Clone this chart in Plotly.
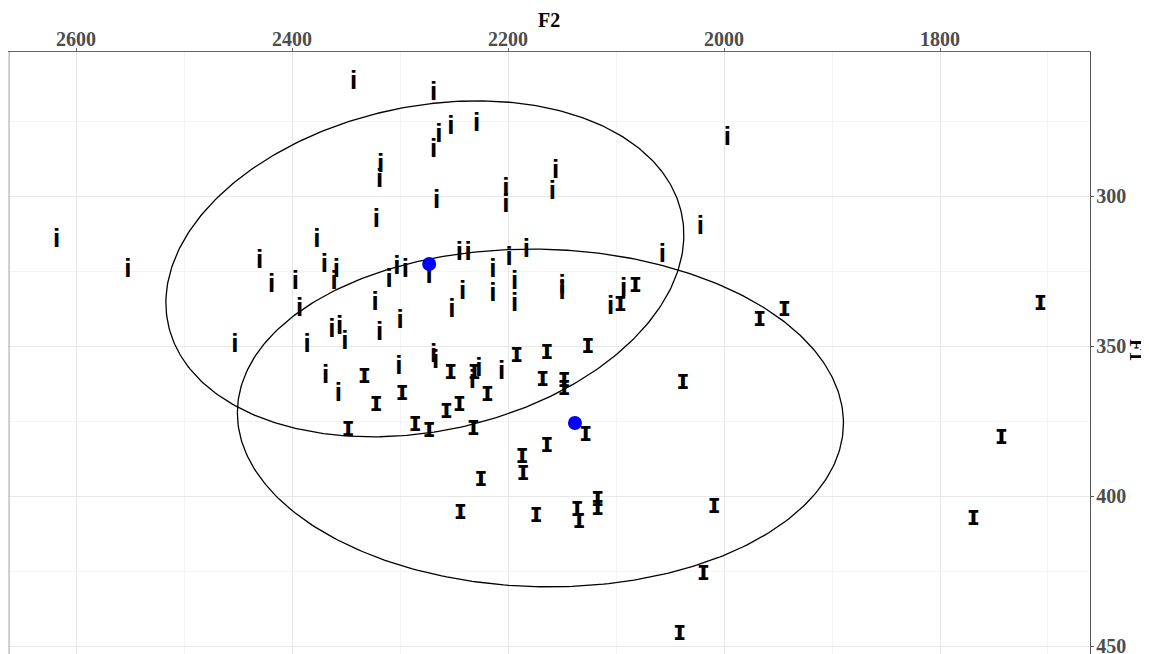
import numpy as np
import plotly.graph_objects as go

# ---- data: vowel "i" tokens (F2, F1 in Hz) ----
i_f2 = [2343, 2269, 2229, 2253, 2264, 2269, 1997, 2318, 2319, 2156, 2159, 2202, 2202,
        2266, 2322, 2618, 2552, 2377, 2022, 2057, 2430, 2370, 2359, 2361, 2419, 2397,
        2393, 2323, 2310, 2303, 2295, 2245, 2237, 2273, 2199, 2183, 2214, 2242, 2214,
        2194, 2194, 2150, 2150, 2252, 2105, 2093, 2300, 2319, 2363, 2356, 2351, 2386,
        2453, 2369, 2357, 2301, 2269, 2267, 2227, 2233, 2206]
i_f1 = [262.2, 265.6, 276.2, 277.2, 279.9, 284.6, 280.6, 289.6, 294.9, 291.6, 298.9, 297.6, 303.2,
        301.6, 308.2, 314.9, 324.9, 314.6, 310.3, 319.9, 321.9, 323.2, 324.6, 328.9, 329.9, 328.6,
        337.6, 335.6, 328.2, 323.9, 324.6, 319.2, 319.2, 326.6, 320.6, 318.2, 324.6, 332.2, 332.9,
        328.6, 336.2, 330.2, 332.2, 338.2, 337.2, 331.2, 341.6, 345.9, 344.9, 343.6, 348.6, 349.9,
        349.6, 360.2, 366.2, 357.2, 353.2, 355.2, 357.6, 361.6, 358.9]

# ---- data: vowel "ɪ" tokens ----
ih_f2 = [2082, 2096, 2126, 2164, 2192, 2253, 2298, 2168, 2148, 2148, 2219, 2245, 2257,
         2286, 2273, 2232, 2231, 2128, 1967, 1944, 2038, 2333, 2322, 2348, 1707, 1743,
         2164, 2187, 2186, 2225, 2244, 2174, 2136, 2134, 2117, 2117, 2009, 2019, 2041, 1769]
ih_f1 = [329.6, 335.9, 349.9, 351.9, 352.9, 358.6, 365.6, 360.9, 361.3, 363.9, 365.9, 369.3, 371.6,
         375.9, 377.9, 377.3, 358.6, 379.3, 340.9, 337.6, 361.9, 359.9, 369.3, 377.6, 335.6, 380.3,
         382.9, 386.7, 392.3, 394.3, 405.3, 406.3, 404.3, 408.3, 400.9, 403.9, 403.3, 425.6, 445.6, 407.3]

# ---- group means ----
mean_f2 = [2273, 2138]
mean_f1 = [322.6, 375.6]

# ---- ellipses: centre F2, centre F1, half-width F2, half-height F1, correlation ----
ell_cx = [2277, 2170]
ell_cy = [324.2, 373.9]
ell_w = [239.8, 280.6]
ell_h = [56.0, 56.3]
ell_r = [0.202, -0.03]

x_ticks = [2600, 2400, 2200, 2000, 1800]
y_ticks = [300, 350, 400, 450]

fig = go.Figure()

t = np.linspace(0, 2 * np.pi, 361)
for cx, cy, w, h, r in zip(ell_cx, ell_cy, ell_w, ell_h, ell_r):
    ex = cx + w * np.cos(t)
    ey = cy + h * (r * np.cos(t) + np.sqrt(1 - r * r) * np.sin(t))
    fig.add_trace(go.Scatter(x=ex, y=ey, mode="lines",
                             line=dict(color="black", width=1.3),
                             hoverinfo="skip", showlegend=False))

i_font = dict(family="Liberation Sans, DejaVu Sans, sans-serif", size=26,
              color="#000000", weight="bold")
ih_font = dict(family="Liberation Sans, DejaVu Sans, sans-serif", size=28,
               color="#000000", weight="bold")
fig.add_trace(go.Scatter(x=i_f2, y=i_f1, mode="text", text=["i"] * len(i_f2),
                         textposition="middle center", textfont=i_font,
                         showlegend=False))
fig.add_trace(go.Scatter(x=ih_f2, y=ih_f1, mode="text", text=["ɪ"] * len(ih_f2),
                         textposition="middle center", textfont=ih_font,
                         showlegend=False))
fig.add_trace(go.Scatter(x=mean_f2, y=mean_f1, mode="markers",
                         marker=dict(color="#0000FF", size=14),
                         showlegend=False))

tick_font = dict(family="Liberation Serif, serif", size=20, color="#4D4D4D", weight="bold")
grid_major = "#E8E8E8"
grid_minor = "#F4F4F4"

# page body adds an 8px offset, so the figure is sized to fill the rest of the window
fig.update_layout(
    width=1141, height=646,
    margin=dict(l=0, r=59, t=44, b=0),
    paper_bgcolor="white", plot_bgcolor="white",
    xaxis=dict(side="top", range=[2663, 1661.1], tickvals=x_ticks,
               ticktext=[str(v) for v in x_ticks], automargin=False,
               showgrid=True, gridcolor=grid_major, gridwidth=1,
               minor=dict(tickvals=[2500, 2300, 2100, 1900, 1700], showgrid=True,
                          gridcolor=grid_minor, gridwidth=1),
               showline=True, linecolor="#666666", linewidth=1.2,
               ticks="outside", ticklen=3, tickcolor="#666666",
               ticklabelstandoff=-6, ticklabeloverflow="allow",
               tickfont=tick_font, zeroline=False),
    yaxis=dict(side="right", range=[452.6, 251.9], tickvals=y_ticks,
               ticktext=[str(v) for v in y_ticks], automargin=False,
               showgrid=True, gridcolor=grid_major, gridwidth=1,
               minor=dict(tickvals=[275, 325, 375, 425], showgrid=True,
                          gridcolor=grid_minor, gridwidth=1),
               showline=True, linecolor="#555555", linewidth=1.4,
               ticks="outside", ticklen=3, tickcolor="#555555",
               ticklabelstandoff=-2, ticklabeloverflow="allow",
               tickfont=tick_font, zeroline=False),
    shapes=[dict(type="line", xref="paper", yref="paper", x0=0.001, x1=0.001, y0=0, y1=1,
                 line=dict(color="#B0B0B0", width=1.2))],
    annotations=[
        dict(text="F2", xref="paper", yref="paper", x=0.5, y=1.053,
             xanchor="center", yanchor="middle", showarrow=False,
             font=dict(family="Liberation Serif, serif", size=20, color="black", weight="bold")),
        dict(text="F1", xref="paper", yref="paper", x=1.0434, y=0.505,
             xanchor="center", yanchor="middle", showarrow=False, textangle=90,
             font=dict(family="Liberation Serif, serif", size=20, color="black", weight="bold")),
    ],
)

fig.write_html("out.html")
